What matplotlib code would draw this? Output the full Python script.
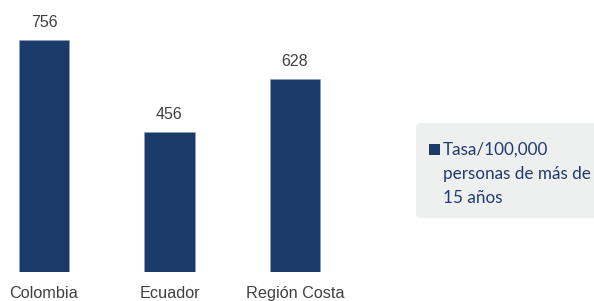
import matplotlib
matplotlib.use("Agg")
import matplotlib.pyplot as plt
from matplotlib.patches import FancyBboxPatch, Rectangle

categories = ["Colombia", "Ecuador", "Región Costa"]
values = [756, 456, 628]
value_labels = ["756", "456", "628"]
legend_lines = ["Tasa/100,000", "personas de más de", "15 años"]

bar_color = "#1A3A69"
text_gray = "#404040"
legend_text_color = "#1F3B6E"
box_color = "#EEF0F0"

sans = ["Liberation Sans", "DejaVu Sans"]

W, H = 594, 301
PT = 72 / 100  # points per pixel
fig = plt.figure(figsize=(W / 100, H / 100), dpi=100)
fig.patch.set_facecolor("white")

ax = fig.add_axes([0, 1 - 272 / H, 340 / W, (272 - 40) / H])
x = list(range(len(categories)))
ax.bar(x, values, width=0.4, color=bar_color, edgecolor="#8FA0B8", linewidth=0.4)
ax.set_xlim(-44 / 125.5, (340 - 44) / 125.5)
ax.set_ylim(0, max(values))
ax.axis("off")

for xi, v, lab in zip(x, values, value_labels):
    ax.annotate(lab, (xi, v), xytext=(0, 13 * PT), textcoords="offset points",
                ha="center", va="baseline", fontsize=11.5, color=text_gray,
                family=sans, annotation_clip=False)
for xi, c in zip(x, categories):
    ax.annotate(c, (xi, 0), xytext=(0, -26 * PT), textcoords="offset points",
                ha="center", va="baseline", fontsize=11.7, color=text_gray,
                family=sans, annotation_clip=False)

# legend box
box = FancyBboxPatch((416 / W, 1 - 218 / H), (640 - 416) / W, (218 - 123) / H,
                     boxstyle="round,pad=0,rounding_size=0.012",
                     transform=fig.transFigure, facecolor=box_color,
                     edgecolor="none", zorder=0)
fig.patches.append(box)
sq = Rectangle((429 / W, 1 - 155 / H), 11 / W, 11 / H, transform=fig.transFigure,
               facecolor=bar_color, edgecolor="none")
fig.patches.append(sq)
for i, line in enumerate(legend_lines):
    fig.text(443 / W, 1 - (155 + 24 * i) / H, line, ha="left", va="baseline",
             fontsize=12.3, color=legend_text_color, family=["Lato", "DejaVu Sans"])

fig.savefig("out.png", dpi=100)
